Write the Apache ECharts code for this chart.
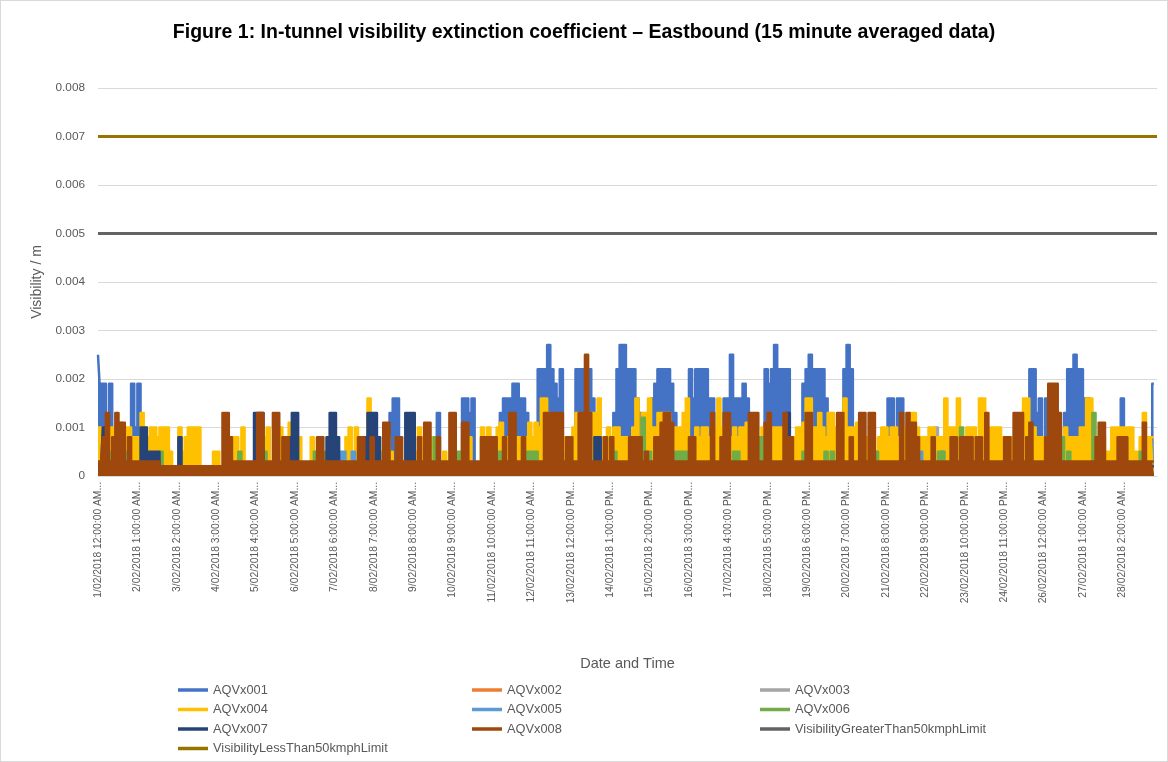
<!DOCTYPE html>
<html>
<head>
<meta charset="utf-8">
<script src="https://cdn.jsdelivr.net/npm/echarts@6/dist/echarts.min.js"></script>
<style>
html,body{margin:0;padding:0;background:#fff;}
#frame{width:1168px;height:762px;box-sizing:border-box;border:1px solid #D9D9D9;}
#chart{width:1166px;height:760px;}
</style>
</head>
<body>
<div id="frame"><div id="chart"></div></div>
<script>
// Time base: one value every 2 hours from 1/02/2018 12:00 AM (28 days = 336 values per series)
// Values are in units of 0.0001 /m (extinction coefficient).
const SLOT_HOURS = 2;
const UNIT = 0.0001;
const TOTAL_HOURS = 672;
const LABEL_STEP_HOURS = 25;

const seriesNames = ['AQVx001','AQVx002','AQVx003','AQVx004','AQVx005','AQVx006','AQVx007','AQVx008'];

const aqv001 = [
 25,19,19,10,19,2,2,2,2,2,8,19,
 10,19,10,2,2,2,2,2,2,2,2,2,
 2,2,2,2,2,2,2,2,2,2,2,2,
 2,2,2,2,2,2,2,2,2,2,2,2,
 2,2,2,2,2,2,2,2,2,2,2,2,
 2,2,2,2,2,2,2,2,2,2,2,2,
 2,2,2,2,2,2,2,2,2,2,2,2,
 2,2,2,2,2,2,2,2,2,13,16,16,
 2,2,2,2,2,2,2,2,2,2,2,2,
 13,2,2,2,2,2,2,2,16,16,13,16,
 2,2,2,2,2,2,2,8,13,16,16,16,
 19,19,16,16,13,2,2,2,22,22,22,27,
 22,19,16,22,8,8,8,8,22,22,22,22,
 22,16,8,2,2,2,2,2,13,22,27,27,
 22,22,22,16,13,2,2,2,16,19,22,22,
 22,22,19,13,2,2,2,2,22,16,22,22,
 22,22,16,16,8,2,2,16,16,25,16,16,
 16,19,16,2,2,2,2,8,22,19,22,27,
 22,22,22,22,8,2,2,2,19,22,25,22,
 22,22,22,16,8,2,2,2,2,22,27,22,
 2,2,2,2,2,2,2,2,2,2,2,16,
 16,8,16,16,2,2,2,2,2,2,2,2,
 2,2,2,2,2,2,2,2,2,2,2,2,
 2,2,2,2,2,2,2,2,2,2,2,2,
 2,2,2,2,2,2,2,2,22,22,13,16,
 8,16,16,2,2,2,2,13,22,22,25,22,
 22,16,16,2,2,2,2,2,2,2,2,2,
 2,16,2,2,2,2,2,2,2,2,2,19
];

const aqv002 = [
 2,2,2,2,2,2,2,2,2,2,2,2, 2,2,2,2,2,2,2,2,2,2,2,2, 2,2,2,2,2,2,2,2,2,2,2,2, 2,2,2,2,2,2,2,2,2,2,2,2,
 2,2,2,2,2,2,2,2,2,2,2,2, 2,2,2,2,2,2,2,2,2,2,2,2, 2,2,2,2,2,2,2,2,2,2,2,2, 2,2,2,2,2,2,2,2,2,2,2,2,
 2,2,2,2,2,2,2,2,2,2,2,2, 2,2,2,2,2,2,2,2,2,2,2,2, 2,2,2,2,2,2,2,2,2,2,2,2, 2,2,2,2,2,2,2,2,2,2,2,2,
 2,2,2,2,2,2,2,2,2,2,2,2, 2,2,2,2,2,2,2,2,2,2,2,2, 2,2,2,2,2,2,2,2,2,2,2,2, 2,2,2,2,2,2,2,2,2,2,2,2,
 2,2,2,2,2,2,2,2,2,2,2,2, 2,2,2,2,2,2,2,2,2,2,2,2, 2,2,2,2,2,2,2,2,2,2,2,2, 2,2,2,2,2,2,2,2,2,2,2,2,
 2,2,2,2,2,2,2,2,2,2,2,2, 2,2,2,2,2,2,2,2,2,2,2,2, 2,2,2,2,2,2,2,2,2,2,2,2, 2,2,2,2,2,2,2,2,2,2,2,2,
 2,2,2,2,2,2,2,2,2,2,2,2, 2,2,2,2,2,2,2,2,2,2,2,2, 2,2,2,2,2,2,2,2,2,2,2,2, 2,2,2,2,2,2,2,2,2,2,2,2
];

const aqv003 = [
 2,2,2,2,2,2,2,2,2,2,2,2, 2,2,2,2,2,2,2,2,2,2,2,2, 2,2,2,2,2,2,2,2,2,2,2,2, 2,2,2,2,2,2,2,2,2,2,2,2,
 2,2,2,2,2,2,2,2,2,2,2,2, 2,2,2,2,2,2,2,2,2,2,2,2, 2,2,2,2,2,2,2,2,2,2,2,2, 2,2,2,2,2,2,2,2,2,2,2,2,
 2,2,2,2,2,2,2,2,2,2,2,2, 2,2,2,2,2,2,2,2,2,2,2,2, 2,2,2,2,2,2,2,2,2,2,2,2, 2,2,2,2,2,2,2,2,2,2,2,2,
 2,2,2,2,2,2,2,2,2,2,2,2, 2,2,2,2,2,2,2,2,2,2,2,2, 2,2,2,2,2,2,2,2,2,2,2,2, 2,2,2,2,2,2,2,2,2,2,2,2,
 2,2,2,2,2,2,2,2,2,2,2,2, 2,2,2,2,2,2,2,2,2,2,2,2, 2,2,2,2,2,2,2,2,2,2,2,2, 2,2,2,2,2,2,2,2,2,2,2,2,
 2,2,2,2,2,2,2,2,2,2,2,2, 2,2,2,2,2,2,2,2,2,2,2,2, 2,2,10,2,2,2,2,2,2,2,2,2, 2,2,2,2,2,2,2,2,2,2,2,2,
 2,2,2,2,2,2,2,2,2,2,2,2, 2,2,2,2,2,2,2,2,2,2,2,2, 2,2,2,2,2,2,2,2,2,2,2,2, 2,2,2,2,2,2,2,2,2,2,2,2
];

const aqv004 = [
 10,10,8,5,10,10,8,11,8,10,10,8,
 8,8,13,10,8,10,10,8,10,10,10,5,
 2,2,10,5,8,10,10,10,10,2,2,2,
 2,5,5,2,2,2,2,8,8,2,10,2,
 2,2,2,2,2,8,10,2,2,2,10,2,
 8,11,2,2,8,2,2,2,8,2,2,2,
 2,2,2,2,2,2,2,8,10,2,10,8,
 8,5,16,8,5,8,5,8,8,5,2,2,
 2,2,2,2,2,5,10,8,2,2,8,8,
 2,2,5,2,2,2,2,2,8,8,8,2,
 2,2,10,8,10,8,2,10,11,8,8,8,
 8,8,8,8,8,11,8,11,10,16,16,13,
 8,8,8,8,8,8,8,10,13,8,8,8,
 8,13,13,16,8,8,10,8,10,10,8,8,
 8,8,10,16,8,13,13,16,10,10,13,13,
 13,13,10,10,10,10,13,16,8,8,10,8,
 10,10,8,8,10,16,10,8,8,8,10,8,
 10,10,11,8,8,8,8,10,10,10,10,10,
 10,10,8,8,8,8,10,10,11,16,16,10,
 10,13,10,8,13,13,10,10,8,16,10,10,
 10,11,10,8,8,8,8,5,8,10,10,8,
 10,10,8,8,10,8,13,13,10,8,8,8,
 10,10,8,8,8,16,10,10,10,16,8,8,
 10,10,10,8,16,16,8,10,10,10,10,8,
 8,8,8,8,8,8,16,16,10,10,8,8,
 8,8,8,8,8,8,8,10,8,8,8,8,
 10,10,16,16,8,8,8,8,5,5,10,10,
 10,10,10,10,10,5,5,8,13,8,8,8
];

const aqv005 = [
 2,2,2,2,2,2,2,2,2,2,2,2, 2,2,2,2,2,2,2,2,2,2,2,2, 2,2,2,2,2,2,2,2,2,2,2,2, 2,2,2,2,2,2,2,2,2,2,2,2,
 2,2,2,2,2,2,2,2,2,2,2,2, 2,2,2,2,2,2,2,2,2,2,2,2, 2,2,2,2,2,5,5,2,2,5,2,2, 2,2,2,2,2,2,2,2,2,2,2,2,
 2,2,2,2,2,2,2,2,2,2,2,2, 2,2,2,2,2,2,2,2,2,2,2,2, 2,2,2,2,2,2,2,2,2,2,2,2, 2,2,2,2,2,2,2,2,2,2,2,2,
 2,2,2,2,2,2,2,2,2,2,2,2, 2,2,2,2,2,2,2,2,2,2,2,2, 2,2,2,2,2,2,2,2,2,2,2,2, 2,2,2,2,2,2,2,2,2,2,2,2,
 2,2,2,2,2,2,2,2,2,2,2,2, 2,2,2,2,2,2,2,2,2,2,2,2, 2,2,2,2,2,2,2,2,2,2,2,2, 2,2,2,2,2,2,2,2,2,2,2,2,
 2,2,2,2,2,2,2,2,2,2,2,2, 2,2,2,2,2,2,2,2,2,5,2,2, 2,2,2,2,5,2,2,2,2,2,2,2, 2,2,2,2,2,2,2,2,2,2,2,2,
 2,2,2,2,2,2,2,2,2,2,2,2, 2,2,2,2,2,2,2,2,2,2,2,2, 2,2,2,2,2,2,2,2,2,2,2,2, 2,2,2,2,2,2,2,2,2,2,2,2
];

const aqv006 = [
 2,2,2,2,5,2,2,2,2,5,2,2,
 2,2,2,2,2,2,2,2,5,2,2,2,
 2,2,2,2,2,2,2,2,2,2,2,2,
 2,2,2,2,2,2,2,2,2,5,2,2,
 2,2,2,2,2,5,2,2,2,2,2,2,
 2,2,2,2,2,2,2,2,2,5,2,2,
 5,2,2,2,2,2,2,2,2,2,2,5,
 2,2,2,2,2,5,2,2,2,2,2,2,
 2,2,2,2,2,2,2,2,2,2,2,8,
 2,2,2,2,2,2,5,5,2,2,2,2,
 2,2,2,2,2,2,2,5,5,2,2,2,
 2,2,2,2,5,5,5,5,2,2,2,2,
 2,2,2,2,2,5,2,2,2,2,2,2,
 2,2,2,2,2,2,2,2,5,2,2,2,
 2,2,2,2,2,12,5,5,2,2,2,2,
 2,2,2,5,5,5,5,5,2,2,2,2,
 2,2,2,2,2,2,2,5,2,2,5,5,
 2,2,2,2,2,2,8,8,2,2,2,2,
 2,2,2,2,2,2,2,2,5,2,2,2,
 2,2,2,5,2,5,2,2,2,2,2,2,
 2,2,2,2,2,2,2,5,2,2,2,2,
 2,2,2,2,2,2,2,2,5,2,2,2,
 2,2,2,5,5,2,2,2,2,2,10,2,
 2,2,2,2,2,2,2,2,2,2,2,2,
 2,2,2,2,2,2,2,2,2,2,2,2,
 2,2,2,2,2,8,8,2,5,2,2,2,
 2,2,2,2,13,2,2,2,2,2,2,2,
 2,2,2,2,2,2,2,5,2,2,2,2
];

const aqv007 = [
 2,2,10,2,2,2,2,2,2,2,2,2,
 2,2,10,10,5,5,5,5,2,2,2,2,
 2,2,8,2,2,2,2,2,2,2,2,2,
 2,2,2,2,2,2,2,2,2,2,2,2,
 2,2,13,13,13,2,2,2,2,2,2,2,
 2,8,13,13,2,2,2,2,2,2,2,2,
 2,8,13,13,8,2,2,2,2,2,2,2,
 2,8,13,13,13,8,2,2,2,2,2,2,
 2,2,13,13,13,2,2,2,2,2,2,2,
 2,2,2,2,2,2,2,2,2,2,2,2,
 2,2,2,2,2,2,2,2,2,2,2,2,
 2,2,2,2,2,2,2,2,2,2,2,2,
 2,2,2,2,2,2,2,2,2,2,2,2,
 2,2,8,8,2,2,2,2,2,2,2,2,
 2,2,2,2,2,2,2,2,2,2,2,2,
 2,2,2,2,2,2,2,2,2,2,2,2,
 2,2,2,2,2,2,2,2,2,2,2,2,
 2,2,2,2,2,2,2,2,2,2,2,2,
 2,2,2,13,2,2,2,2,2,2,2,2,
 2,2,2,2,2,2,2,2,2,2,2,2,
 2,2,2,2,2,2,2,2,2,2,2,2,
 2,2,2,2,2,2,2,2,2,2,2,2,
 2,2,2,2,2,2,2,2,2,2,2,2,
 2,2,2,2,2,2,2,2,2,2,2,2,
 2,2,2,2,2,2,2,2,2,2,2,2,
 2,2,2,2,2,2,2,2,2,2,2,2,
 2,2,2,2,2,2,2,2,2,2,2,2,
 2,2,8,2,2,2,2,2,2,2,2,2
];

const aqv008 = [
 3,3,8,13,3,8,13,11,11,3,8,3,
 3,3,3,3,3,3,3,3,2,2,2,2,
 2,2,2,2,2,2,2,2,2,2,2,2,
 2,2,2,2,13,13,8,3,3,3,3,3,
 3,3,3,13,13,3,3,3,13,13,3,8,
 8,3,3,3,3,3,3,3,3,3,8,8,
 3,3,3,3,3,3,3,3,3,3,3,8,
 8,3,3,8,3,3,3,11,11,3,3,8,
 8,3,3,3,3,3,8,3,11,11,3,3,
 8,3,3,3,13,13,3,3,11,11,3,3,
 3,3,8,8,8,8,8,3,3,8,3,13,
 13,3,3,8,3,3,3,3,3,3,13,13,
 13,13,13,13,3,8,8,3,3,13,13,25,
 13,3,3,3,3,8,3,8,3,3,3,3,
 3,8,8,8,8,3,5,3,3,8,8,11,
 13,13,11,3,3,3,3,3,8,8,3,3,
 3,3,3,13,3,3,8,13,13,3,3,3,
 3,3,3,13,13,13,3,3,11,13,3,3,
 3,3,13,8,8,3,3,3,3,13,13,3,
 3,3,3,3,3,3,3,13,13,3,3,8,
 3,3,13,13,3,13,13,3,3,3,3,3,
 3,3,3,13,3,13,11,11,8,3,3,3,
 3,8,3,3,3,3,3,8,8,3,8,8,
 8,8,3,8,8,3,13,3,3,3,3,3,
 8,8,3,13,13,13,3,8,11,3,3,3,
 3,8,19,19,19,13,3,3,3,3,3,3,
 3,3,3,3,3,8,11,11,3,3,3,3,
 8,8,8,3,3,3,3,3,11,3,3,3
];

const limitNames = ['VisibilityGreaterThan50kmphLimit','VisibilityLessThan50kmphLimit'];
const limitValues = [0.005, 0.007];

const colors = {
  AQVx001:'#4472C4', AQVx002:'#ED7D31', AQVx003:'#A5A5A5', AQVx004:'#FFC000',
  AQVx005:'#5B9BD5', AQVx006:'#70AD47', AQVx007:'#264478', AQVx008:'#9E480E',
  VisibilityGreaterThan50kmphLimit:'#636363', VisibilityLessThan50kmphLimit:'#997300'
};

const valueArrays = [aqv001, aqv002, aqv003, aqv004, aqv005, aqv006, aqv007, aqv008];

function toPoints(arr){ return arr.map((v,i)=>[i*SLOT_HOURS, v*UNIT]); }

function fmtHour(h){
  const day = Math.floor(h/24)+1;
  const hr = h % 24;
  const ap = hr < 12 ? 'AM' : 'PM';
  const h12 = hr % 12 === 0 ? 12 : hr % 12;
  return day + '/02/2018 ' + h12 + ':00:00 ' + ap + '...';
}

const series = seriesNames.map((name, k) => ({
  name: name,
  type: 'line',
  z: 2 + k,
  step: 'middle',
  data: toPoints(valueArrays[k]),
  symbol: 'none',
  showSymbol: false,
  color: colors[name],
  lineStyle: { width: 2.5, color: colors[name], cap: 'butt', join: 'round' },
  areaStyle: { color: colors[name], opacity: 1 },
  silent: true
}));

limitNames.forEach((name, k) => {
  series.push({
    name: name,
    type: 'line',
    z: 20,
    data: [[0, limitValues[k]], [TOTAL_HOURS, limitValues[k]]],
    symbol: 'none',
    showSymbol: false,
    color: colors[name],
    lineStyle: { width: 3, color: colors[name], cap: 'butt' },
    silent: true
  });
});

const FONT = 'Liberation Sans, Arial, sans-serif';
const legendBase = {
  orient: 'vertical', icon: 'rect', itemWidth: 30, itemHeight: 3.5,
  itemGap: 3.5, padding: 0, top: 681,
  textStyle: { color: '#595959', fontSize: 12.8, fontFamily: FONT, lineHeight: 16 }
};

const chart = echarts.init(document.getElementById('chart'), null, { renderer: 'canvas' });
chart.setOption({
  animation: false,
  backgroundColor: '#fff',
  title: {
    text: 'Figure 1: In-tunnel visibility extinction coefficient \u2013 Eastbound (15 minute averaged data)',
    left: 'center', top: 17,
    textStyle: { color: '#000', fontSize: 19.5, fontWeight: 'bold', fontFamily: FONT }
  },
  legend: [
    Object.assign({}, legendBase, { left: 177, data: ['AQVx001','AQVx004','AQVx007','VisibilityLessThan50kmphLimit'] }),
    Object.assign({}, legendBase, { left: 471, data: ['AQVx002','AQVx005','AQVx008'] }),
    Object.assign({}, legendBase, { left: 759, data: ['AQVx003','AQVx006','VisibilityGreaterThan50kmphLimit'] })
  ],
  grid: { left: 97, right: 10, top: 87, bottom: 285, containLabel: false },
  xAxis: {
    type: 'value', min: 0, max: TOTAL_HOURS, interval: LABEL_STEP_HOURS,
    name: 'Date and Time', nameLocation: 'middle', nameGap: 180,
    nameTextStyle: { color: '#595959', fontSize: 14.5, fontFamily: FONT },
    axisLine: { show: true, lineStyle: { color: '#D9D9D9', width: 1 } },
    axisTick: { show: false },
    splitLine: { show: false },
    axisLabel: {
      rotate: 90, margin: 6, color: '#595959', fontSize: 10.3, fontFamily: FONT,
      showMaxLabel: false, formatter: v => fmtHour(v)
    }
  },
  yAxis: {
    type: 'value', min: 0, max: 0.008, interval: 0.001,
    name: 'Visibility / m', nameLocation: 'middle', nameGap: 54, nameRotate: 90,
    nameTextStyle: { color: '#595959', fontSize: 14, fontFamily: FONT },
    axisLine: { show: false }, axisTick: { show: false },
    splitLine: { lineStyle: { color: '#D9D9D9', width: 1 } },
    axisLabel: { color: '#595959', fontSize: 11.8, fontFamily: FONT, margin: 13,
      formatter: v => v === 0 ? '0' : v.toFixed(3) }
  },
  series: series
});
</script>
</body>
</html>
